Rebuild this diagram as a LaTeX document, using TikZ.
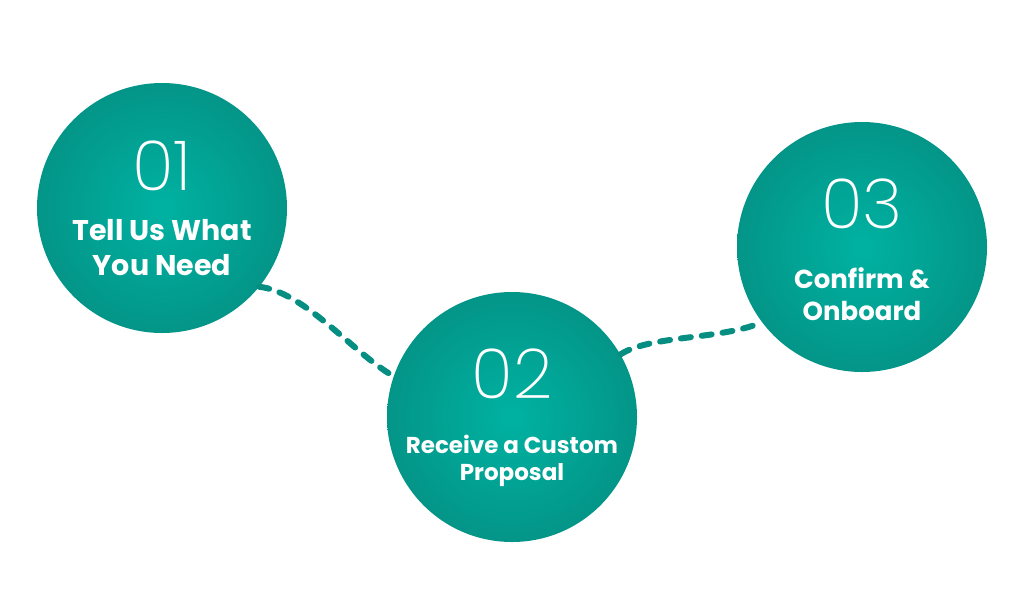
\documentclass[tikz,border=0pt]{standalone}
\usepackage{fontspec}
\setmainfont{Poppins}
\newfontfamily\numfont{Poppins ExtraLight}
\newfontfamily\labfont{Poppins Bold}
\definecolor{tinner}{RGB}{0,178,162}
\definecolor{touter}{RGB}{4,137,125}
\definecolor{tdash}{RGB}{6,142,130}
\pgfdeclareradialshading{tealglow}{\pgfpoint{0bp}{0bp}}{color(0bp)=(tinner); color(18bp)=(tinner!50!touter); color(35bp)=(touter); color(50bp)=(touter)}
\begin{document}
\begin{tikzpicture}[x=1pt,y=-1pt,
  stepcircle/.style={circle, minimum size=250pt, inner sep=0pt, shading=tealglow},
  num/.style={anchor=base, text=white, inner sep=0pt, font=\numfont\fontsize{69}{69}\selectfont},
  lab/.style={anchor=base, text=white, inner sep=0pt},
  conn/.style={draw=tdash, line width=6pt, line cap=round, dash pattern=on 10pt off 11pt}]
\useasboundingbox (0,0) rectangle (1024,603);
\node[stepcircle] (c1) at (162,208) {};
\node[stepcircle] (c2) at (512,417) {};
\node[stepcircle] (c3) at (862,247) {};
\draw[conn] (c1.-39) .. controls (305,292) and (353,353) .. (c2.161);
\draw[conn] (c2.30) .. controls (650,335) and (720,340) .. (c3.217);
\node[num] (n1) at (162,190) {01};
\node[num] (n2) at (512,398) {02};
\node[num] (n3) at (862,228) {03};
\node[lab, font=\labfont\fontsize{28.5}{28.5}\selectfont] (l1a) at (162,240) {Tell Us What};
\node[lab, font=\labfont\fontsize{28.5}{28.5}\selectfont] (l1b) at (162,275) {You Need};
\node[lab, font=\labfont\fontsize{23}{23}\selectfont] (l2a) at (512,453) {Receive a Custom};
\node[lab, font=\labfont\fontsize{23}{23}\selectfont] (l2b) at (512,480) {Proposal};
\node[lab, font=\labfont\fontsize{26}{26}\selectfont] (l3a) at (862,288) {Confirm \&};
\node[lab, font=\labfont\fontsize{26}{26}\selectfont] (l3b) at (862,320) {Onboard};
\end{tikzpicture}
\end{document}
